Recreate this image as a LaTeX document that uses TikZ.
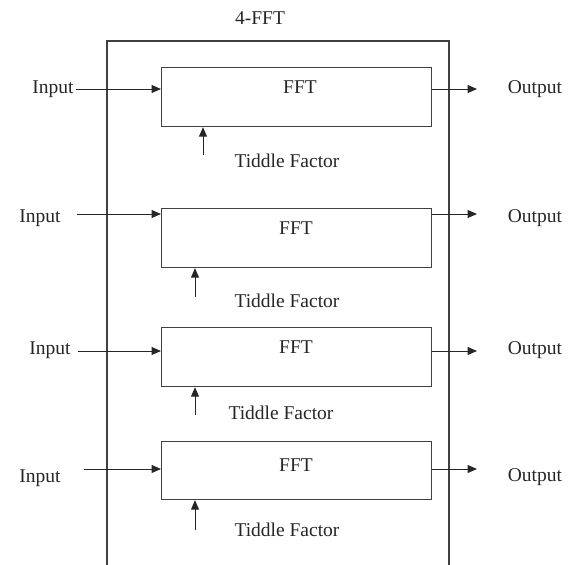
\documentclass[tikz,border=0pt]{standalone}
\usepackage{fontspec}
\setmainfont{Liberation Serif}
\usetikzlibrary{arrows.meta}
\begin{document}
\begin{tikzpicture}[x=1pt,y=-1pt,
  every node/.style={font=\fontsize{19.5}{21}\selectfont, inner sep=0pt, text=black!85},
  fftbox/.style={draw=black!75, line width=1.2pt, minimum width=270pt, minimum height=59pt, anchor=north west},
  arr/.style={-{Triangle[length=9.5pt,width=8pt]}, line width=1pt, draw=black!85},
  frame/.style={line width=1.1pt, draw=black!75}]
\useasboundingbox (0,0) rectangle (571,565);
% outer frame (open at the bottom)
\draw[frame] (107,565) -- (107,41) -- (449,41) -- (449,565);
\node (title) at (260,18) {4-FFT};
% FFT boxes
\node[fftbox] (f1) at (161,67) {};
\node[fftbox] (f2) at (161,208) {};
\node[fftbox] (f3) at (161,327) {};
\node[fftbox, minimum height=58pt] (f4) at (161,441) {};
\node (l1) at (300,87) {FFT};
\node (l2) at (296,228) {FFT};
\node (l3) at (296,347) {FFT};
\node (l4) at (296,465) {FFT};
% inputs
\node (in1) at (53,89) {Input};
\node (in2) at (40,218) {Input};
\node (in3) at (50,350) {Input};
\node (in4) at (40,478) {Input};
\coordinate (s1) at (76,89);
\coordinate (s2) at (77,214);
\coordinate (s3) at (78,351);
\coordinate (s4) at (84,469);
\draw[arr] (s1) -- (f1.west |- s1);
\draw[arr] (s2) -- (f2.west |- s2);
\draw[arr] (s3) -- (f3.west |- s3);
\draw[arr] (s4) -- (f4.west |- s4);
% outputs
\coordinate (e1) at (477,89);
\coordinate (e2) at (477,214);
\coordinate (e3) at (477,351);
\coordinate (e4) at (477,469);
\draw[arr] (f1.east |- e1) -- (e1);
\draw[arr] (f2.east |- e2) -- (e2);
\draw[arr] (f3.east |- e3) -- (e3);
\draw[arr] (f4.east |- e4) -- (e4);
\node (out1) at (535,89) {Output};
\node (out2) at (535,218) {Output};
\node (out3) at (535,350) {Output};
\node (out4) at (535,477) {Output};
% twiddle factors
\coordinate (t1) at (203,155);
\coordinate (t2) at (195,297);
\coordinate (t3) at (195,415);
\coordinate (t4) at (195,530);
\draw[arr] (t1) -- (t1 |- f1.south);
\draw[arr] (t2) -- (t2 |- f2.south);
\draw[arr] (t3) -- (t3 |- f3.south);
\draw[arr] (t4) -- (t4 |- f4.south);
\node (tf1) at (287,161) {Tiddle Factor};
\node (tf2) at (287,301) {Tiddle Factor};
\node (tf3) at (281,413) {Tiddle Factor};
\node (tf4) at (287,530) {Tiddle Factor};
\end{tikzpicture}
\end{document}
